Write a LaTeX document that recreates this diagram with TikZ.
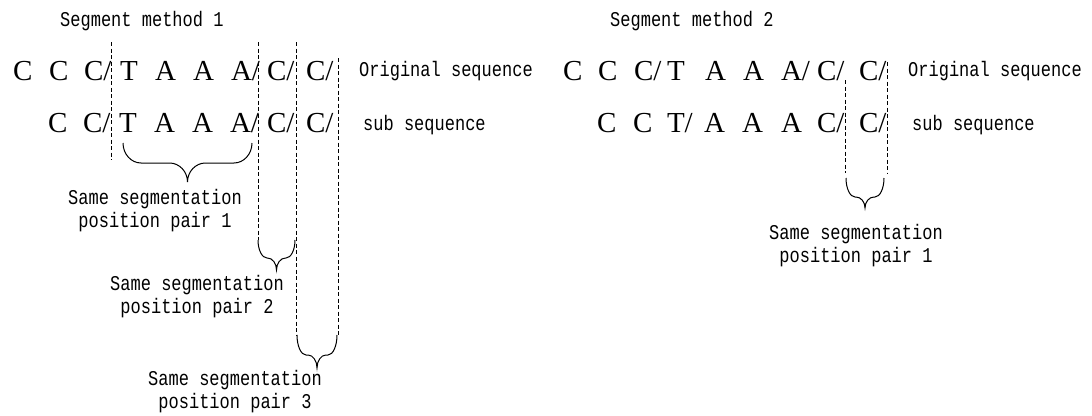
\documentclass[tikz,border=0pt]{standalone}
\usepackage{fontspec}
\setmainfont{Liberation Serif}
\newfontfamily\lblfont[FakeStretch=0.81]{Liberation Mono}
\newcommand\segsl{/}
% curly brace opening upwards: x1, x2, top y, body y, tip y, curl width
\newcommand\wbrace[6]{%
  \draw[bracepath] (#1,#3)
    .. controls (#1,{#3+0.55*(#4-#3)}) and ({#1+0.45*#6},#4) .. ({#1+#6},#4)
    -- ({(#1+#2)/2-#6},#4)
    .. controls ({(#1+#2)/2-0.45*#6},#4) and ({(#1+#2)/2},{#5-0.55*(#5-#4)}) .. ({(#1+#2)/2},#5)
    .. controls ({(#1+#2)/2},{#5-0.55*(#5-#4)}) and ({(#1+#2)/2+0.45*#6},#4) .. ({(#1+#2)/2+#6},#4)
    -- ({#2-#6},#4)
    .. controls ({#2-0.45*#6},#4) and (#2,{#3+0.55*(#4-#3)}) .. (#2,#3);}
\begin{document}
\begin{tikzpicture}[x=1pt,y=-1pt,
  seq/.style={font=\fontsize{29}{29}\selectfont, anchor=base west, inner sep=0pt, outer sep=0pt},
  lbl/.style={font=\lblfont\fontsize{21}{23}\selectfont, inner sep=0pt, anchor=base west},
  pairlabel/.style={lbl, align=center, anchor=base},
  guide/.style={draw=black, line width=0.7pt, dash pattern=on 4pt off 2.5pt},
  bracepath/.style={draw=black, line width=1pt}]
\useasboundingbox (0,0) rectangle (1092,415);

% ---------- segment method 1 ----------
\node[lbl] (t1) at (60,26) {Segment method 1};
\foreach \x/\t [count=\i] in {13/C,49/C,84/C\segsl,120/T,155/A,193/A,231/A\segsl,267/C\segsl,306/C\segsl}
  \node[seq] (lo\i) at (\x,80) {\t};
\foreach \x/\t [count=\i] in {48/C,83/C\segsl,119/T,154/A,192/A,230/A\segsl,267/C\segsl,306/C\segsl}
  \node[seq] (ls\i) at (\x,132) {\t};
\node[lbl] (lorig) at (359,76) {Original sequence};
\node[lbl] (lsub) at (363,130) {sub sequence};

\coordinate (g1t) at (111,42);  \coordinate (g1b) at (111,160);
\coordinate (g2t) at (258,42);  \coordinate (g2b) at (258,240);
\coordinate (g3t) at (296,42);  \coordinate (g3b) at (296,335);
\coordinate (g4t) at (338,58);  \coordinate (g4b) at (338,337);
\draw[guide] (g1t) -- (g1b);
\draw[guide] (g2t) -- (g2b);
\draw[guide] (g3t) -- (g3b);
\draw[guide] (g4t) -- (g4b);

\wbrace{123}{252}{143}{163}{182}{18}
\wbrace{258}{295}{240}{258}{270}{9}
\wbrace{297}{337}{335}{355}{368}{9}

% multi-line nodes sit on the baseline of their last line
\node[pairlabel] (p1) at (155,227) {Same segmentation\\position pair 1};
\node[pairlabel] (p2) at (197,313) {Same segmentation\\position pair 2};
\node[pairlabel] (p3) at (235,408) {Same segmentation\\position pair 3};

% ---------- segment method 2 ----------
\node[lbl] (t2) at (610,26) {Segment method 2};
\foreach \x/\t [count=\i] in {563/C,598/C,634/C\segsl,667/T,705/A,743/A,781/A\segsl,817/C\segsl,859/C\segsl}
  \node[seq] (ro\i) at (\x,80) {\t};
\foreach \x/\t [count=\i] in {597/C,633/C,667/T\segsl,704/A,742/A,781/A,817/C\segsl,859/C\segsl}
  \node[seq] (rs\i) at (\x,132) {\t};
\node[lbl] (rorig) at (908,76) {Original sequence};
\node[lbl] (rsub) at (912,130) {sub sequence};

\coordinate (g5t) at (845,80);  \coordinate (g5b) at (845,173);
\coordinate (g6t) at (887,62);  \coordinate (g6b) at (887,173);
\draw[guide] (g5t) -- (g5b);
\draw[guide] (g6t) -- (g6b);

\wbrace{846}{884}{178}{197}{208}{9}
\node[pairlabel] (q1) at (856,262) {Same segmentation\\position pair 1};
\end{tikzpicture}
\end{document}
